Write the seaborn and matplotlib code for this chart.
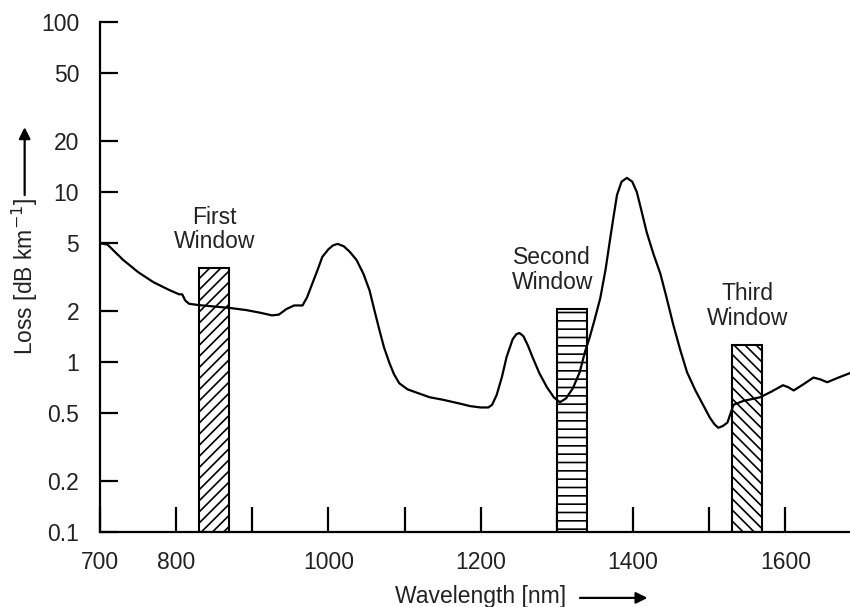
import numpy as np
import pandas as pd
import matplotlib
matplotlib.use("Agg")
import matplotlib.pyplot as plt
import seaborn as sns

# ---- data ----
wavelength = [700, 710, 730, 750, 770, 791, 804, 808, 812, 817, 830, 850, 870, 892, 910, 926,
              935, 945, 955, 966, 972, 979, 986, 992, 1000, 1006, 1012, 1020, 1028, 1037,
              1046, 1054, 1060, 1067, 1073, 1080, 1086, 1093, 1104, 1116, 1133, 1150, 1172,
              1186, 1200, 1210, 1215, 1221, 1228, 1234, 1242, 1247, 1251, 1256, 1262, 1268,
              1277, 1287, 1296, 1304, 1312, 1321, 1330, 1337, 1343, 1350, 1357, 1364, 1370,
              1375, 1379, 1385, 1392, 1399, 1405, 1411, 1418, 1427, 1436, 1444, 1453, 1462,
              1471, 1482, 1492, 1501, 1507, 1512, 1518, 1524, 1532, 1545, 1567, 1582, 1597,
              1604, 1611, 1624, 1637, 1646, 1655, 1670, 1685]
loss = [5.0, 4.9, 4.0, 3.38, 2.95, 2.65, 2.5, 2.5, 2.3, 2.2, 2.16, 2.12, 2.08, 2.02, 1.95, 1.88,
        1.9, 2.05, 2.15, 2.15, 2.4, 2.9, 3.5, 4.15, 4.6, 4.85, 4.95, 4.8, 4.45, 3.98,
        3.3, 2.64, 2.05, 1.54, 1.22, 0.99, 0.85, 0.75, 0.69, 0.66, 0.62, 0.6, 0.57,
        0.55, 0.54, 0.54, 0.56, 0.64, 0.82, 1.07, 1.36, 1.46, 1.48, 1.42, 1.25, 1.07,
        0.86, 0.71, 0.62, 0.58, 0.61, 0.7, 0.87, 1.15, 1.39, 1.8, 2.37, 3.5, 5.3,
        7.4, 9.6, 11.5, 12.1, 11.5, 10.0, 7.8, 5.8, 4.3, 3.3, 2.4, 1.65, 1.18,
        0.87, 0.68, 0.56, 0.47, 0.43, 0.41, 0.42, 0.44, 0.56, 0.59, 0.62, 0.67, 0.73,
        0.71, 0.68, 0.74, 0.81, 0.79, 0.76, 0.81, 0.86]

window_names = ["First\nWindow", "Second\nWindow", "Third\nWindow"]
window_start = [830, 1300, 1530]
window_end = [870, 1340, 1570]
window_top = [3.57, 2.05, 1.26]
window_hatch = ["///", "--", "\\\\\\"]
window_label_x = [850, 1294, 1550]

y_ticks = [0.1, 0.2, 0.5, 1, 2, 5, 10, 20, 50, 100]
y_ticklabels = ["0.1", "0.2", "0.5", "1", "2", "5", "10", "20", "50", "100"]
x_ticks = [700, 800, 900, 1000, 1100, 1200, 1300, 1400, 1500, 1600]
x_labels_shown = [700, 800, 1000, 1200, 1400, 1600]

# ---- style ----
sns.set_theme(style="white")
plt.rcParams["font.family"] = ["Liberation Sans", "DejaVu Sans"]
plt.rcParams["hatch.linewidth"] = 1.2
plt.rcParams["hatch.color"] = "black"

FS = 16.5
fig = plt.figure(figsize=(8.5, 6.07), dpi=100)
ax = fig.add_axes([0.1176, 0.1236, 0.8824, 0.8402])

df = pd.DataFrame({"Wavelength": wavelength, "Loss": loss})
sns.lineplot(data=df, x="Wavelength", y="Loss", ax=ax, color="black", linewidth=1.6, zorder=3)

ymin, ymax = 0.1, 100
for s, e, t, h, name, lx in zip(window_start, window_end, window_top, window_hatch,
                                window_names, window_label_x):
    ax.bar(s, t - ymin, width=e - s, bottom=ymin, align="edge", facecolor="white",
           edgecolor="black", linewidth=1.5, hatch=h, zorder=2)
    ax.text(lx, t * 1.22, name, ha="center", va="bottom", fontsize=FS,
            color="#222222", linespacing=1.1)

ax.set_yscale("log")
ax.set_ylim(ymin, ymax)
ax.set_xlim(700, 1685)
ax.set_yticks(y_ticks)
ax.set_yticklabels(y_ticklabels)
ax.yaxis.set_minor_locator(matplotlib.ticker.NullLocator())
ax.set_xticks(x_ticks)
ax.set_xticklabels([str(v) if v in x_labels_shown else "" for v in x_ticks])
ax.set_xlabel("")
ax.set_ylabel("")

for side in ["top", "right"]:
    ax.spines[side].set_visible(False)
for side in ["left", "bottom"]:
    ax.spines[side].set_linewidth(1.6)
    ax.spines[side].set_color("black")

ax.tick_params(axis="y", direction="in", length=13, width=1.6, labelsize=FS, pad=15,
               left=True, colors="black")
ax.tick_params(axis="x", direction="in", length=18, width=1.6, labelsize=FS, pad=14,
               bottom=True, colors="black")
for lab in ax.get_xticklabels() + ax.get_yticklabels():
    lab.set_color("#222222")

# axis labels with arrows
fig.text(0.029, 0.544, "Loss [dB km$^{-1}$]", rotation=90, ha="center", va="center",
         fontsize=FS, color="#222222")
fig.patches.append(matplotlib.patches.FancyArrowPatch(
    (0.029, 0.674), (0.029, 0.795), transform=fig.transFigure,
    arrowstyle="-|>", mutation_scale=17, linewidth=1.6, color="black"))
fig.text(0.565, 0.017, "Wavelength [nm]", ha="center", va="center", fontsize=FS, color="#222222")
fig.patches.append(matplotlib.patches.FancyArrowPatch(
    (0.679, 0.015), (0.765, 0.015), transform=fig.transFigure,
    arrowstyle="-|>", mutation_scale=17, linewidth=1.6, color="black"))

fig.savefig("out.png", dpi=100)
